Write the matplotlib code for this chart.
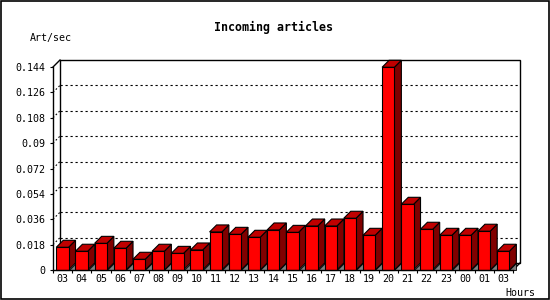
import matplotlib
matplotlib.use('Agg')
import matplotlib.pyplot as plt
from matplotlib.patches import Rectangle, Polygon

# data
hours = ['03', '04', '05', '06', '07', '08', '09', '10', '11', '12', '13', '14',
         '15', '16', '17', '18', '19', '20', '21', '22', '23', '00', '01', '03']
art_sec = [0.0161, 0.0133, 0.0189, 0.0154, 0.0076, 0.0133, 0.0118, 0.0142,
           0.0270, 0.0253, 0.0232, 0.0284, 0.0267, 0.0312, 0.0312, 0.0367,
           0.0246, 0.1438, 0.0466, 0.0289, 0.0246, 0.0246, 0.0275, 0.0133]
yticks = [0, 0.018, 0.036, 0.054, 0.072, 0.09, 0.108, 0.126, 0.144]
ylabels = ['0', '0.018', '0.036', '0.054', '0.072', '0.09', '0.108', '0.126', '0.144']

W, H = 550, 300
mono = 'DejaVu Sans Mono'

fig = plt.figure(figsize=(W / 100, H / 100), dpi=100)
fig.patch.set_facecolor('white')

# plot area (front plane) in pixels
L, R, B, T = 53, 513, 270, 67
ax = fig.add_axes([L / W, 1 - B / H, (R - L) / W, (B - T) / H])
n = len(hours)
ymax = yticks[-1]
ax.set_xlim(0, n)
ax.set_ylim(0, ymax)
ax.set_facecolor('none')

# 3D depth in data units (7 px right, 7 px up)
dx = 7 * n / (R - L)
dy = 7 * ymax / (B - T)

for s in ['top', 'right']:
    ax.spines[s].set_visible(False)
for s in ['left', 'bottom']:
    ax.spines[s].set_linewidth(1)
    ax.spines[s].set_zorder(6)

# back wall frame
ax.add_patch(Rectangle((dx, dy), n, ymax, fill=False, ec='black', lw=1,
                       clip_on=False, zorder=1))
ax.plot([0, dx], [ymax, ymax + dy], color='black', lw=1, clip_on=False, zorder=1)
ax.plot([n, n + dx], [0, dy], color='black', lw=1, clip_on=False, zorder=1)

# dotted grid on back wall + connectors
for v in yticks[1:-1]:
    ax.plot([dx, n + dx], [v + dy, v + dy], color='black', lw=0.8,
            linestyle=(0, (2, 2.5)), clip_on=False, zorder=1)
    ax.plot([0, dx], [v, v + dy], color='black', lw=0.8,
            linestyle=(0, (1.5, 2)), clip_on=False, zorder=1)

# bars
bw = 0.64
for i, v in enumerate(art_sec):
    x0 = i + 0.17
    x1 = x0 + bw
    z = 3 + i * 0.01
    ax.add_patch(Polygon([(x1, 0), (x1 + dx, 0), (x1 + dx, dy)], closed=True,
                         fc='#808080', ec='black', lw=0.6, clip_on=False, zorder=z))
    ax.add_patch(Polygon([(x1, 0), (x1 + dx, dy), (x1 + dx, v + dy), (x1, v)],
                         closed=True, fc='#800000', ec='black', lw=0.8,
                         clip_on=False, zorder=z))
    ax.add_patch(Polygon([(x0, v), (x1, v), (x1 + dx, v + dy), (x0 + dx, v + dy)],
                         closed=True, fc='#C00000', ec='black', lw=0.8,
                         clip_on=False, zorder=z))
    ax.add_patch(Rectangle((x0, 0), bw, v, fc='#FF0000', ec='black', lw=0.8,
                           clip_on=False, zorder=z))

# ticks
ax.set_yticks(yticks)
ax.set_yticklabels(ylabels, fontsize=7.2, family=mono)
ax.tick_params(axis='y', direction='out', length=2.2, width=0.8, pad=3.6)
ax.set_xticks(range(n + 1))
ax.set_xticklabels([])
ax.set_xticks([i + 0.5 for i in range(n)], minor=True)
ax.set_xticklabels(hours, minor=True, fontsize=7.2, family=mono)
ax.tick_params(axis='x', which='major', direction='out', length=2.2, width=0.8)
ax.tick_params(axis='x', which='minor', length=0, pad=3)

# texts
fig.text(273.5 / W, 1 - 31 / H, 'Incoming articles', ha='center', va='baseline',
         fontsize=8.4, fontweight='bold', family=mono)
fig.text(30 / W, 1 - 40.5 / H, 'Art/sec', ha='left', va='baseline',
         fontsize=7.2, family=mono)
fig.text(505 / W, 1 - 296 / H, 'Hours', ha='left', va='baseline',
         fontsize=7.2, family=mono)

# outer frame
fig.patches.append(Rectangle((0.5 / W, 1.5 / H), 548 / W, 298 / H, fill=False,
                             ec='black', lw=1.2, transform=fig.transFigure))

fig.savefig('out.png', dpi=100)
